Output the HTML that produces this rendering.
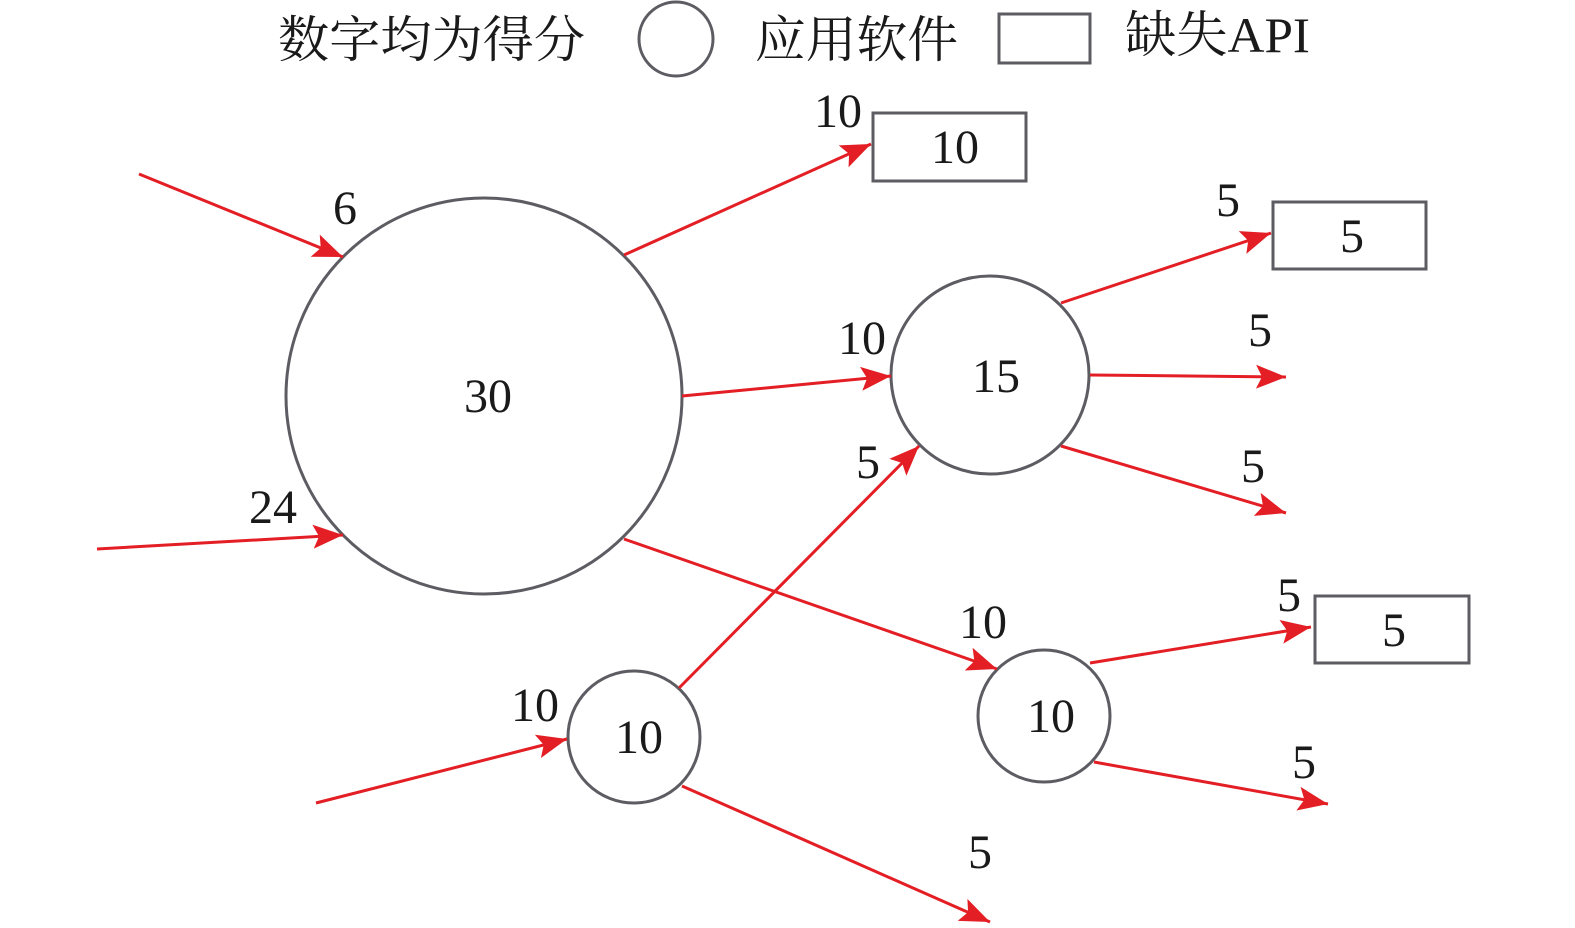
<!DOCTYPE html>
<html><head><meta charset="utf-8"><style>
html,body{margin:0;padding:0;background:#fff;}
svg{display:block;}
text{font-family:"Liberation Serif","Noto Serif CJK SC",serif;fill:#1a1a1a;}
</style></head><body>
<svg width="1575" height="928" viewBox="0 0 1575 928" xmlns="http://www.w3.org/2000/svg">
<defs>
<marker id="a" markerUnits="userSpaceOnUse" markerWidth="32" markerHeight="24" refX="30" refY="12" orient="auto">
<path d="M0,0 L30,12 L0,24 L6,12 Z" fill="#e31e24"/>
</marker>
</defs>
<text x="278" y="57" font-size="50" textLength="307" lengthAdjust="spacingAndGlyphs">数字均为得分</text>
<text x="755" y="57" font-size="50" textLength="203" lengthAdjust="spacingAndGlyphs">应用软件</text>
<text x="1125" y="52" font-size="50" textLength="185" lengthAdjust="spacingAndGlyphs">缺失API</text>
<g fill="none" stroke="#5c5c62" stroke-width="3">
<circle cx="676" cy="39" r="37"/>
<rect x="999" y="14" width="91" height="49"/>
<circle cx="484" cy="396" r="198"/>
<circle cx="990" cy="375" r="99"/>
<circle cx="634" cy="737" r="66"/>
<circle cx="1044" cy="716" r="66"/>
<rect x="873" y="113" width="153" height="68"/>
<rect x="1273" y="202" width="153" height="67"/>
<rect x="1315" y="596" width="154" height="67"/>
</g>
<g stroke="#e31e24" stroke-width="3" marker-end="url(#a)">
<line x1="139" y1="174" x2="343" y2="257"/>
<line x1="97" y1="549" x2="343" y2="535"/>
<line x1="624" y1="255" x2="871" y2="144"/>
<line x1="682" y1="396" x2="891" y2="376"/>
<line x1="624" y1="539" x2="997" y2="669"/>
<line x1="679" y1="688" x2="919" y2="446"/>
<line x1="316" y1="803" x2="567" y2="739"/>
<line x1="682" y1="786" x2="990" y2="922"/>
<line x1="1061" y1="303" x2="1271" y2="233"/>
<line x1="1090" y1="375" x2="1286" y2="377"/>
<line x1="1061" y1="446" x2="1286" y2="513"/>
<line x1="1090" y1="663" x2="1311" y2="627"/>
<line x1="1094" y1="762" x2="1328" y2="804"/>
</g>
<g font-size="48" text-anchor="middle">
<text x="488" y="412">30</text>
<text x="996" y="392">15</text>
<text x="639" y="753">10</text>
<text x="1051" y="732">10</text>
<text x="955" y="163">10</text>
<text x="1352" y="252">5</text>
<text x="1394" y="646">5</text>
<text x="345" y="224">6</text>
<text x="273" y="523">24</text>
<text x="838" y="127">10</text>
<text x="862" y="354">10</text>
<text x="983" y="638">10</text>
<text x="868" y="478">5</text>
<text x="535" y="721">10</text>
<text x="980" y="868">5</text>
<text x="1228" y="216">5</text>
<text x="1260" y="346">5</text>
<text x="1253" y="482">5</text>
<text x="1289" y="611">5</text>
<text x="1304" y="778">5</text>
</g>
</svg>
</body></html>
